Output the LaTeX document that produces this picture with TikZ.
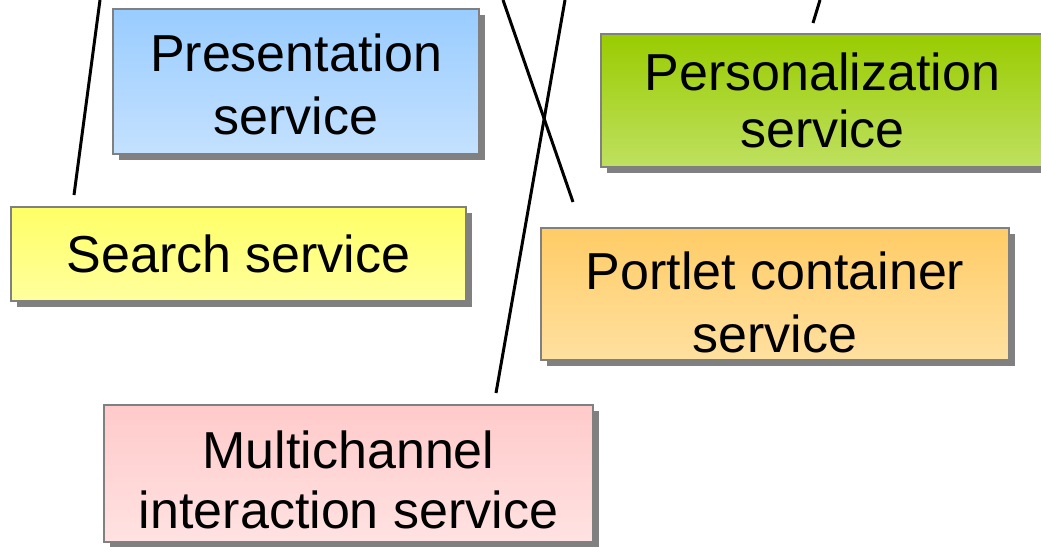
\documentclass[tikz,border=0pt]{standalone}
\usepackage{fontspec}
\setmainfont{Liberation Sans}
\usetikzlibrary{shadows}

\definecolor{presTop}{HTML}{99CCFF}
\definecolor{presBot}{HTML}{C4E1FF}
\definecolor{searchTop}{HTML}{FFFF66}
\definecolor{searchBot}{HTML}{FFFF9E}
\definecolor{persTop}{HTML}{99CC00}
\definecolor{persBot}{HTML}{BFE060}
\definecolor{portTop}{HTML}{FFCC66}
\definecolor{portBot}{HTML}{FFE0A0}
\definecolor{multiTop}{HTML}{FFCACA}
\definecolor{multiBot}{HTML}{FFE2E2}

\begin{document}
\begin{tikzpicture}[x=1pt,y=-1pt,line width=3pt]
            \tikzstyle{service}=[rectangle,draw=black!50,line width=1.5pt,inner sep=0pt,align=center,
                font=\fontsize{52}{63}\selectfont,
                drop shadow={shadow xshift=6pt,shadow yshift=-6pt,fill=black!50,opacity=1}]
            \useasboundingbox (0,0) rectangle (1041,546);

            \node[service,minimum width=366pt,minimum height=145pt,top color=presTop,bottom color=presBot]
                (S-pres) at (296,81.5) {\rule{0pt}{44pt}Presentation\\service};
            \node[service,minimum width=455pt,minimum height=94pt,top color=searchTop,bottom color=searchBot]
                (S-search) at (238.5,254) {Search service};
            \node[service,minimum width=443pt,minimum height=133pt,top color=persTop,bottom color=persBot,
                font=\fontsize{52}{57}\selectfont]
                (S-pers) at (822.5,100.5) {Personalization\\service};
            \node[service,minimum width=468pt,minimum height=132pt,top color=portTop,bottom color=portBot]
                (S-port) at (775,294) {\rule{0pt}{54pt}Portlet container\\service};
            \node[service,minimum width=489pt,minimum height=137pt,top color=multiTop,bottom color=multiBot,
                font=\fontsize{52}{60}\selectfont]
                (S-multi) at (348.5,473.5) {\rule{0pt}{51pt}Multichannel\\interaction service};

            \foreach \name/\x/\y in {T-search/100/0, B-search/74/195, T-port/503/0, B-port/573/202,
                                     T-multi/565/0, B-multi/496/393, T-pers/820/0, B-pers/813/23}
                    \coordinate (\name) at (\x,\y);

                \foreach \from/\to in {T-search/B-search, T-port/B-port, T-multi/B-multi, T-pers/B-pers}
                    \draw (\from) -- (\to);
        \end{tikzpicture}
\end{document}
